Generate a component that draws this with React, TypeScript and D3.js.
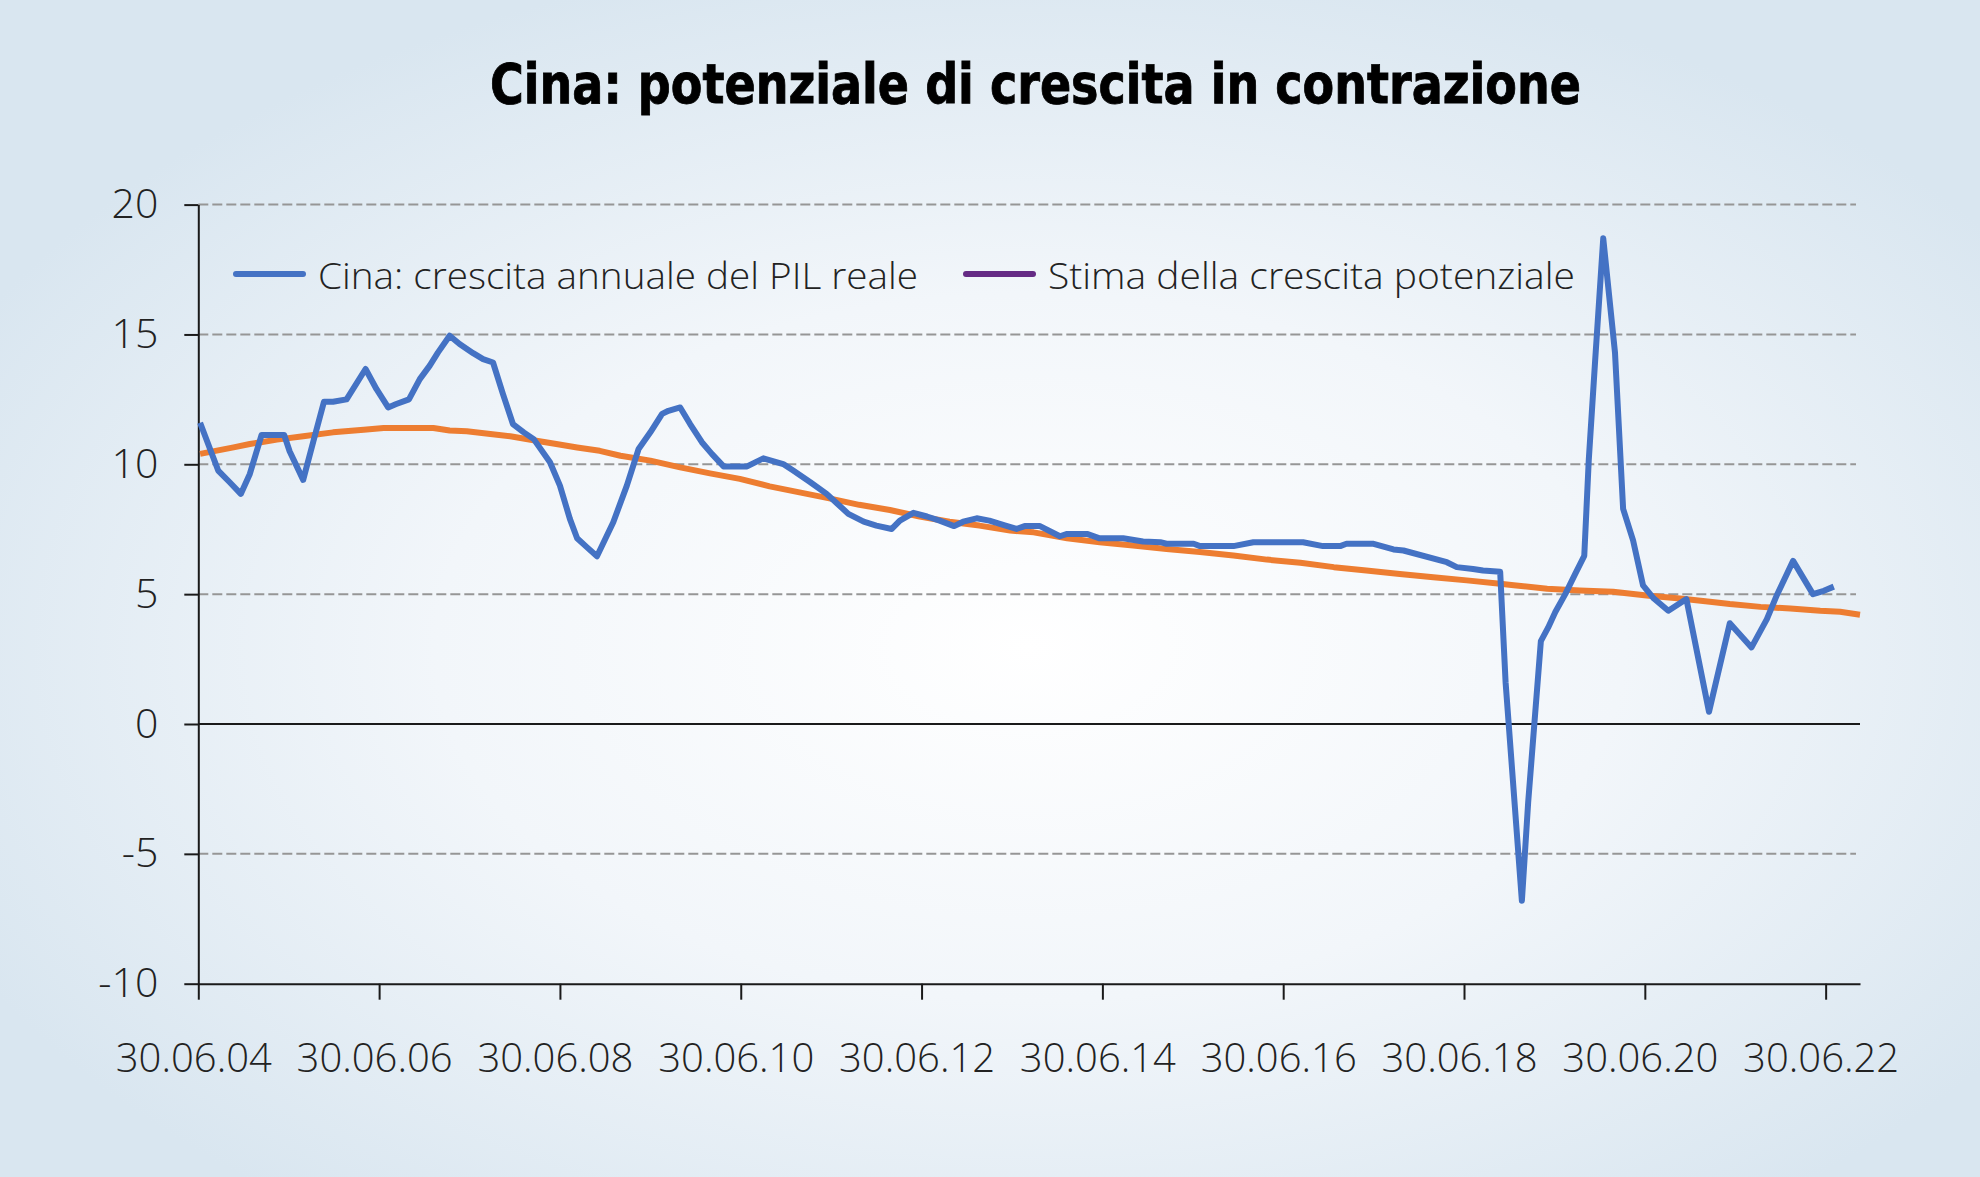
import { useEffect, useRef } from 'react';
import * as d3 from 'd3';

const WIDTH = 1980;
const HEIGHT = 1177;

const title = 'Cina: potenziale di crescita in contrazione';
const seriesNames = ['Cina: crescita annuale del PIL reale', 'Stima della crescita potenziale'];

// x values are decimal years on the chart's own time axis (30.06.04 = 2004.5)
const gdpGrowth: [number, number][] = [
  [2004.52, 11.6], [2004.72, 9.76], [2004.85, 9.3], [2004.97, 8.86], [2005.07, 9.63],
  [2005.2, 11.13], [2005.45, 11.13], [2005.51, 10.5], [2005.66, 9.4], [2005.77, 10.85],
  [2005.89, 12.41], [2005.99, 12.41], [2006.14, 12.5], [2006.35, 13.67], [2006.47, 12.9],
  [2006.6, 12.19], [2006.69, 12.32], [2006.83, 12.5], [2006.95, 13.28], [2007.06, 13.8],
  [2007.15, 14.3], [2007.28, 14.95], [2007.39, 14.63], [2007.54, 14.28], [2007.65, 14.05],
  [2007.76, 13.92], [2007.87, 12.7], [2007.98, 11.55], [2008.1, 11.23], [2008.21, 10.97],
  [2008.39, 10.08], [2008.5, 9.18], [2008.61, 7.9], [2008.69, 7.15], [2008.8, 6.8],
  [2008.91, 6.46], [2009.09, 7.77], [2009.24, 9.18], [2009.37, 10.59], [2009.5, 11.23],
  [2009.63, 11.94], [2009.7, 12.06], [2009.83, 12.19], [2009.94, 11.55], [2010.07, 10.85],
  [2010.18, 10.4], [2010.31, 9.92], [2010.57, 9.92], [2010.75, 10.23], [2010.97, 10.01],
  [2011.08, 9.76], [2011.27, 9.31], [2011.45, 8.86], [2011.56, 8.51], [2011.69, 8.09],
  [2011.86, 7.79], [2012.0, 7.64], [2012.17, 7.51], [2012.26, 7.83], [2012.41, 8.13],
  [2012.56, 7.99], [2012.7, 7.83], [2012.86, 7.62], [2012.96, 7.79], [2013.11, 7.92],
  [2013.25, 7.83], [2013.42, 7.65], [2013.55, 7.51], [2013.64, 7.62], [2013.81, 7.62],
  [2014.03, 7.23], [2014.11, 7.32], [2014.33, 7.32], [2014.47, 7.15], [2014.73, 7.15],
  [2014.95, 7.03], [2015.14, 7.0], [2015.21, 6.94], [2015.51, 6.94], [2015.58, 6.85],
  [2015.95, 6.85], [2016.17, 7.0], [2016.72, 7.0], [2016.94, 6.85], [2017.13, 6.85],
  [2017.2, 6.94], [2017.5, 6.94], [2017.72, 6.72], [2017.83, 6.68], [2018.31, 6.23],
  [2018.42, 6.04], [2018.6, 5.97], [2018.71, 5.91], [2018.9, 5.86], [2018.96, 1.6],
  [2019.14, -6.81], [2019.21, -3.0], [2019.35, 3.19], [2019.43, 3.71], [2019.51, 4.31],
  [2019.62, 5.0], [2019.73, 5.78], [2019.83, 6.47], [2019.88, 10.17], [2019.95, 13.97],
  [2020.04, 18.7], [2020.17, 14.3], [2020.26, 8.28], [2020.37, 7.07], [2020.48, 5.34],
  [2020.6, 4.83], [2020.76, 4.36], [2020.96, 4.81], [2021.21, 0.47], [2021.44, 3.88],
  [2021.68, 2.95], [2021.85, 4.04], [2021.96, 4.96], [2022.14, 6.28], [2022.36, 5.0],
  [2022.48, 5.13], [2022.59, 5.29],
];

const potentialGrowth: [number, number][] = [
  [2004.52, 10.4], [2004.89, 10.65], [2005.07, 10.78], [2005.37, 10.95], [2005.66, 11.08],
  [2005.99, 11.23], [2006.33, 11.33], [2006.55, 11.4], [2007.1, 11.4], [2007.28, 11.3],
  [2007.47, 11.27], [2007.73, 11.17], [2007.95, 11.08], [2008.24, 10.91], [2008.46, 10.78],
  [2008.69, 10.65], [2008.94, 10.52], [2009.17, 10.33], [2009.5, 10.14], [2009.83, 9.88],
  [2010.16, 9.65], [2010.49, 9.44], [2010.82, 9.15], [2011.15, 8.92], [2011.48, 8.69],
  [2011.81, 8.44], [2012.15, 8.24], [2012.48, 7.99], [2012.81, 7.79], [2013.14, 7.64],
  [2013.48, 7.45], [2013.74, 7.38], [2014.11, 7.15], [2014.47, 7.0], [2014.84, 6.87],
  [2015.21, 6.74], [2015.58, 6.62], [2015.95, 6.49], [2016.32, 6.33], [2016.69, 6.21],
  [2017.06, 6.04], [2017.42, 5.91], [2017.79, 5.78], [2018.16, 5.65], [2018.53, 5.53],
  [2018.9, 5.4], [2019.05, 5.34], [2019.42, 5.21], [2019.78, 5.14], [2020.15, 5.09],
  [2020.52, 4.95], [2020.89, 4.83], [2021.22, 4.71], [2021.44, 4.62], [2021.78, 4.51],
  [2022.11, 4.45], [2022.44, 4.36], [2022.66, 4.32], [2022.88, 4.21],
];

const xTickYears = [2004.5, 2006.5, 2008.5, 2010.5, 2012.5, 2014.5, 2016.5, 2018.5, 2020.5, 2022.5];
const xTickLabels = ['30.06.04', '30.06.06', '30.06.08', '30.06.10', '30.06.12', '30.06.14', '30.06.16', '30.06.18', '30.06.20', '30.06.22'];
const yTicks = [-10, -5, 0, 5, 10, 15, 20];

const BLUE = '#4472c4';
const ORANGE = '#ed7d31';
const PURPLE = '#652b85';
const LABEL_FONT = '"Open Sans", "Noto Sans", sans-serif';

export default function App() {
  const svgRef = useRef<SVGSVGElement>(null);

  useEffect(() => {
    if (!svgRef.current) return;
    const svg = d3.select(svgRef.current);
    svg.selectAll('*').remove();

    // background
    const defs = svg.append('defs');
    const grad = defs.append('radialGradient')
      .attr('id', 'bg')
      .attr('cx', '52%').attr('cy', '55%').attr('r', '60%');
    grad.append('stop').attr('offset', '0%').attr('stop-color', '#ffffff');
    grad.append('stop').attr('offset', '50%').attr('stop-color', '#f2f6fa');
    grad.append('stop').attr('offset', '100%').attr('stop-color', '#d9e6f0');
    svg.append('rect').attr('width', WIDTH).attr('height', HEIGHT).attr('fill', 'url(#bg)');

    const x = d3.scaleLinear().domain([2004.5, 2022.88]).range([198.3, 1860]);
    const y = d3.scaleLinear().domain([-10, 20]).range([983.7, 204.6]);

    // dashed grid
    svg.append('g')
      .selectAll('line')
      .data(yTicks.filter(t => t !== 0 && t !== -10))
      .join('line')
      .attr('x1', x(2004.5)).attr('x2', 1856)
      .attr('y1', d => y(d)).attr('y2', d => y(d))
      .attr('stroke', '#969696')
      .attr('stroke-width', 2)
      .attr('stroke-dasharray', '10 4');

    // zero line
    svg.append('line')
      .attr('x1', x(2004.5)).attr('x2', x(2022.88))
      .attr('y1', y(0)).attr('y2', y(0))
      .attr('stroke', '#1a1a1a').attr('stroke-width', 2);

    // axes
    const xAxis = svg.append('g')
      .attr('transform', `translate(0,${y(-10)})`)
      .call(d3.axisBottom(x)
        .tickValues(xTickYears)
        .tickFormat((_, i) => xTickLabels[i])
        .tickSize(16)
        .tickSizeOuter(0)
        .tickPadding(44));
    xAxis.select('.domain').attr('stroke', '#1a1a1a').attr('stroke-width', 2);
    xAxis.selectAll('.tick line').attr('stroke', '#1a1a1a').attr('stroke-width', 2);
    xAxis.selectAll('.tick text')
      .attr('font-family', LABEL_FONT)
      .attr('font-weight', 300)
      .attr('font-size', 40)
      .attr('fill', '#222')
      .attr('dx', -5);

    const yAxis = svg.append('g')
      .attr('transform', `translate(${x(2004.5)},0)`)
      .call(d3.axisLeft(y)
        .tickValues(yTicks)
        .tickFormat(d => String(d))
        .tickSize(14)
        .tickSizeOuter(0)
        .tickPadding(26));
    yAxis.select('.domain').attr('stroke', '#1a1a1a').attr('stroke-width', 2);
    yAxis.selectAll('.tick line').attr('stroke', '#1a1a1a').attr('stroke-width', 2);
    yAxis.selectAll('.tick text')
      .attr('font-family', LABEL_FONT)
      .attr('font-weight', 300)
      .attr('font-size', 41)
      .attr('fill', '#222');

    // series
    const line = d3.line<[number, number]>()
      .x(d => x(d[0]))
      .y(d => y(d[1]));

    svg.append('path')
      .datum(potentialGrowth)
      .attr('d', line)
      .attr('fill', 'none')
      .attr('stroke', ORANGE)
      .attr('stroke-width', 6)
      .attr('stroke-linejoin', 'round');

    svg.append('path')
      .datum(gdpGrowth)
      .attr('d', line)
      .attr('fill', 'none')
      .attr('stroke', BLUE)
      .attr('stroke-width', 6)
      .attr('stroke-linejoin', 'round');

    // legend
    const legend = [
      { name: seriesNames[0], color: BLUE, x0: 236, width: 600 },
      { name: seriesNames[1], color: PURPLE, x0: 966, width: 527 },
    ];
    const lg = svg.append('g');
    legend.forEach(item => {
      lg.append('line')
        .attr('x1', item.x0).attr('x2', item.x0 + 67)
        .attr('y1', 274).attr('y2', 274)
        .attr('stroke', item.color)
        .attr('stroke-width', 6)
        .attr('stroke-linecap', 'round');
      lg.append('text')
        .attr('x', item.x0 + 82)
        .attr('y', 289)
        .attr('font-family', LABEL_FONT)
        .attr('font-weight', 300)
        .attr('font-size', 37)
        .attr('fill', '#222')
        .attr('textLength', item.width)
        .attr('lengthAdjust', 'spacingAndGlyphs')
        .text(item.name);
    });

    // title
    svg.append('text')
      .attr('x', 490)
      .attr('y', 103)
      .attr('font-family', '"DejaVu Sans Condensed", "Liberation Sans Narrow", sans-serif')
      .attr('font-weight', 'bold')
      .attr('font-size', 56)
      .attr('fill', '#000')
      .attr('stroke', '#000')
      .attr('stroke-width', 0.8)
      .attr('textLength', 1091)
      .attr('lengthAdjust', 'spacingAndGlyphs')
      .text(title);
  }, []);

  return (
    <svg
      ref={svgRef}
      width={WIDTH}
      height={HEIGHT}
      style={{ position: 'absolute', left: 0, top: 0, display: 'block' }}
    />
  );
}
